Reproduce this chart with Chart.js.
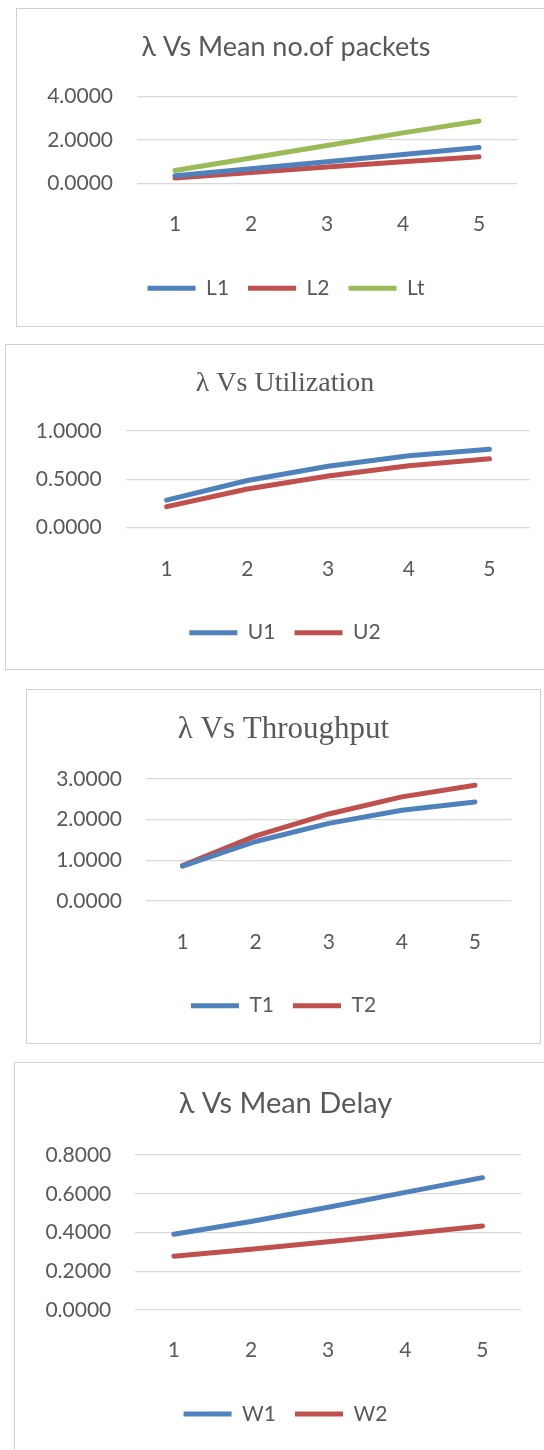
<!DOCTYPE html>
<html>
<head>
<meta charset="utf-8">
<script src="https://cdn.jsdelivr.net/npm/chart.js@4.4.1/dist/chart.umd.min.js"></script>
<style>
  html, body { margin: 0; padding: 0; background: #fff; overflow: hidden; }
  body { width: 544px; height: 1450px; position: relative; }
  .panel { position: absolute; box-sizing: border-box; border: 1px solid #d0d0d0; background: #fff; }
  .panel canvas { position: absolute; left: -1px; top: -1px; }
</style>
</head>
<body>
<div class="panel" style="left:16px;top:8px;width:540px;height:319px"><canvas id="c1" width="540" height="319"></canvas></div>
<div class="panel" style="left:5px;top:344px;width:560px;height:326px"><canvas id="c2" width="560" height="326"></canvas></div>
<div class="panel" style="left:26px;top:689px;width:515px;height:355px"><canvas id="c3" width="515" height="355"></canvas></div>
<div class="panel" style="left:14px;top:1062px;width:543px;height:400px"><canvas id="c4" width="543" height="390"></canvas></div>
<script>
// Arrival rate λ on the category axis
const categories = ['1', '2', '3', '4', '5'];

// Mean number of packets
const L1 = [0.35, 0.67, 1.00, 1.33, 1.65];
const L2 = [0.24, 0.50, 0.75, 1.00, 1.23];
const Lt = [0.59, 1.17, 1.75, 2.33, 2.88];

// Utilization
const U1 = [0.285, 0.488, 0.636, 0.744, 0.812];
const U2 = [0.218, 0.400, 0.535, 0.640, 0.712];

// Throughput
const T1 = [0.856, 1.463, 1.908, 2.233, 2.437];
const T2 = [0.872, 1.600, 2.140, 2.560, 2.848];

// Mean delay
const W1 = [0.391, 0.457, 0.530, 0.607, 0.683];
const W2 = [0.278, 0.314, 0.352, 0.392, 0.433];

// Value-axis ranges: [max, step]
const axisL = [4, 2];
const axisU = [1, 0.5];
const axisT = [3, 1];
const axisW = [0.8, 0.2];

const BLUE = '#4f81bd', RED = '#c0504d', GREEN = '#9bbb59';
const TEXT = '#595959';
const SANS = "Lato, 'DejaVu Sans', sans-serif";
const SERIF = "'Liberation Serif', 'DejaVu Serif', serif";
const labelFont = { family: SANS, size: 21, weight: 'normal' };

function lineChart(id, o) {
  return new Chart(document.getElementById(id), {
    type: 'line',
    data: {
      labels: categories,
      datasets: o.series.map(s => ({
        label: s.name,
        data: s.values,
        xAxisID: 'x',
        yAxisID: 'y',
        borderColor: s.color,
        backgroundColor: s.color,
        borderWidth: 5,
        borderCapStyle: 'round',
        borderJoinStyle: 'round',
        pointRadius: 0,
        tension: 0,
        fill: false
      }))
    },
    options: {
      responsive: false,
      animation: false,
      events: [],
      layout: { padding: { left: 0, right: 0, top: 0, bottom: o.padBottom } },
      plugins: {
        title: {
          display: true,
          text: o.title,
          color: TEXT,
          font: o.titleFont,
          padding: { top: o.titleTop, bottom: o.titleBottom }
        },
        legend: {
          position: 'bottom',
          labels: {
            color: TEXT,
            font: labelFont,
            usePointStyle: true,
            pointStyle: 'line',
            pointStyleWidth: 48,
            padding: 19
          }
        },
        tooltip: { enabled: false }
      },
      scales: {
        x: {
          offset: true,
          grid: { display: false },
          border: { display: false },
          ticks: { color: TEXT, font: labelFont, padding: o.xPad, maxRotation: 0 },
          afterFit: s => { s.height = o.xHeight; }
        },
        y: {
          min: 0,
          max: o.axis[0],
          ticks: {
            stepSize: o.axis[1],
            color: TEXT,
            font: labelFont,
            padding: o.yPad,
            callback: v => Number(v).toFixed(4)
          },
          grid: { color: '#d9d9d9', lineWidth: 1.3, drawTicks: false },
          border: { display: false },
          afterFit: s => { s.width = o.yWidth; }
        },
        yRight: {
          position: 'right',
          grid: { display: false },
          border: { display: false },
          ticks: { display: false },
          afterFit: s => { s.width = o.rWidth; }
        }
      }
    }
  });
}

lineChart('c1', {
  title: 'λ Vs Mean no.of packets',
  titleFont: { family: SANS, size: 27, weight: 'normal' },
  titleTop: 22.8, titleBottom: 33.5,
  padBottom: 18.2, xHeight: 75.5, xPad: 20,
  yWidth: 121, rWidth: 39, yPad: 24,
  axis: axisL,
  series: [
    { name: 'L1', values: L1, color: BLUE },
    { name: 'L2', values: L2, color: RED },
    { name: 'Lt', values: Lt, color: GREEN }
  ]
});

lineChart('c2', {
  title: 'λ Vs Utilization',
  titleFont: { family: SERIF, size: 28, weight: 'normal' },
  titleTop: 22.5, titleBottom: 30.9,
  padBottom: 16.8, xHeight: 75.5, xPad: 20.5,
  yWidth: 121.3, rWidth: 35.2, yPad: 24.6,
  axis: axisU,
  series: [
    { name: 'U1', values: U1, color: BLUE },
    { name: 'U2', values: U2, color: RED }
  ]
});

lineChart('c3', {
  title: 'λ Vs Throughput',
  titleFont: { family: SERIF, size: 31, weight: 'normal' },
  titleTop: 22.4, titleBottom: 30.4,
  padBottom: 17.8, xHeight: 75.2, xPad: 20.5,
  yWidth: 120, rWidth: 29.5, yPad: 24,
  axis: axisT,
  series: [
    { name: 'T1', values: T1, color: BLUE },
    { name: 'T2', values: T2, color: RED }
  ]
});

lineChart('c4', {
  title: 'λ Vs Mean Delay',
  titleFont: { family: SANS, size: 29, weight: 'normal' },
  titleTop: 23.9, titleBottom: 34.3,
  padBottom: 17.5, xHeight: 74.5, xPad: 20,
  yWidth: 121.3, rWidth: 36, yPad: 24,
  axis: axisW,
  series: [
    { name: 'W1', values: W1, color: BLUE },
    { name: 'W2', values: W2, color: RED }
  ]
});
</script>
</body>
</html>
